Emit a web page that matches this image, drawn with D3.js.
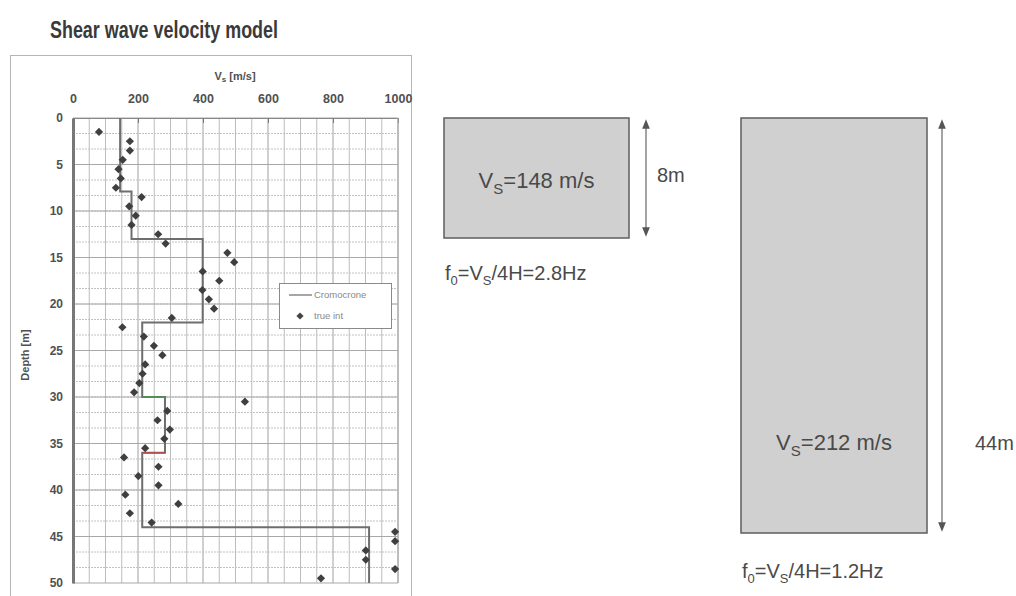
<!DOCTYPE html>
<html>
<head>
<meta charset="utf-8">
<script src="https://cdn.jsdelivr.net/npm/d3@7"></script>
<style>
    body { margin: 0; background: #fff; }
    svg { display: block; font-family: "Liberation Sans", Arial, sans-serif; }
</style>
</head>
<body>
<div id="chart"></div>
<script>
// measured velocity points (true int)
const pointVs = [80, 175, 175, 153, 140, 147, 132, 211, 173, 193, 180, 262, 285, 475, 496, 399, 450, 398, 418, 434,
    304, 152, 218, 249, 275, 222, 214, 204, 188, 529, 290, 260, 298, 281, 222, 157, 263, 201, 263, 161,
    324, 175, 242, 991, 991, 901, 901, 991, 763];
const pointDepth = [1.5, 2.5, 3.5, 4.5, 5.5, 6.5, 7.5, 8.5, 9.5, 10.5, 11.5, 12.5, 13.5, 14.5, 15.5, 16.5, 17.5, 18.5, 19.5, 20.5,
    21.5, 22.5, 23.5, 24.5, 25.5, 26.5, 27.5, 28.5, 29.5, 30.5, 31.5, 32.5, 33.5, 34.5, 35.5, 36.5, 37.5, 38.5, 39.5, 40.5,
    41.5, 42.5, 43.5, 44.5, 45.5, 46.5, 47.5, 48.5, 49.5];

// step model (Cromocrone): layer boundaries and layer velocities
const layerTop = [0, 7.9, 13, 22, 30, 36, 44];
const layerBottom = [7.9, 13, 22, 30, 36, 44, 50];
const layerVs = [145, 180, 399, 213, 283, 213, 911];

const xTicks = [0, 200, 400, 600, 800, 1000];
const yTicks = [0, 5, 10, 15, 20, 25, 30, 35, 40, 45, 50];

// simplified two-layer models shown on the right
const simpleVs = [148, 212];
const simpleH = [8, 44];
const simpleF0 = ['2.8', '1.2'];

const W = 1016, H = 596;
const svg = d3.select('#chart').append('svg').attr('width', W).attr('height', H);

// title
svg.append('text')
    .attr('x', 50).attr('y', 38)
    .attr('font-size', 23).attr('font-weight', 'bold').attr('fill', '#3a3a3a')
    .attr('textLength', 228).attr('lengthAdjust', 'spacingAndGlyphs')
    .text('Shear wave velocity model');

// chart frame
svg.append('rect')
    .attr('x', 10.5).attr('y', 55.5).attr('width', 401).attr('height', 545)
    .attr('fill', 'none').attr('stroke', '#b5b5b5').attr('stroke-width', 1);

const x = d3.scaleLinear().domain([0, 1000]).range([73, 398]);
const y = d3.scaleLinear().domain([0, 50]).range([118, 583]);

// grid
const grid = svg.append('g');
grid.selectAll('.vgrid')
    .data(d3.range(50, 1001, 50))
    .join('line')
    .attr('x1', d => x(d)).attr('x2', d => x(d))
    .attr('y1', y(0)).attr('y2', y(50))
    .attr('stroke', d => d % 200 === 0 ? '#a0a0a0' : '#bdbdbd')
    .attr('stroke-width', 1);
grid.selectAll('.hgrid')
    .data(d3.range(1, 30).map(i => i * 5 / 3))
    .join('line')
    .attr('x1', x(0)).attr('x2', x(1000))
    .attr('y1', d => y(d)).attr('y2', d => y(d))
    .attr('stroke', '#c2c2c2').attr('stroke-width', 1)
    .attr('stroke-dasharray', '2,1');
grid.selectAll('.hmajor')
    .data(yTicks)
    .join('line')
    .attr('x1', x(0)).attr('x2', x(1000))
    .attr('y1', d => y(d)).attr('y2', d => y(d))
    .attr('stroke', '#a8a8a8').attr('stroke-width', 1);

// top axis
const xAxis = d3.axisTop(x).tickValues(xTicks).tickFormat(d3.format('d')).tickSize(-5).tickPadding(15);
const gx = svg.append('g')
    .attr('transform', `translate(0,${y(0)})`)
    .call(xAxis);
gx.select('.domain').attr('stroke', '#888');
gx.selectAll('line').attr('stroke', '#777');
gx.selectAll('text')
    .attr('font-size', 12.5).attr('font-weight', 'bold').attr('fill', '#505050')
    .attr('font-family', '"Liberation Sans", Arial, sans-serif');

// left axis
const yAxis = d3.axisLeft(y).tickValues(yTicks).tickSize(0).tickPadding(10);
const gy = svg.append('g')
    .attr('transform', `translate(${x(0)},0)`)
    .call(yAxis);
gy.select('.domain').attr('stroke', '#777').attr('stroke-width', 3);
gy.selectAll('text')
    .attr('font-size', 12).attr('font-weight', 'bold').attr('fill', '#505050')
    .attr('font-family', '"Liberation Sans", Arial, sans-serif');

// right border
svg.append('line')
    .attr('x1', x(1000)).attr('x2', x(1000)).attr('y1', y(0)).attr('y2', y(50))
    .attr('stroke', '#aaa');

// axis labels
const vsLabel = svg.append('text')
    .attr('x', 235).attr('y', 80).attr('text-anchor', 'middle')
    .attr('font-size', 11).attr('font-weight', 'bold').attr('fill', '#505050');
vsLabel.append('tspan').text('V');
vsLabel.append('tspan').attr('font-size', 8).attr('dy', 2).text('s');
vsLabel.append('tspan').attr('dy', -2).text(' [m/s]');

svg.append('text')
    .attr('transform', 'translate(29,355) rotate(-90)')
    .attr('text-anchor', 'middle')
    .attr('font-size', 11).attr('font-weight', 'bold').attr('fill', '#505050')
    .text('Depth [m]');

// step model line
const stepPts = [];
layerVs.forEach((v, i) => {
    stepPts.push([v, layerTop[i]]);
    stepPts.push([v, layerBottom[i]]);
});
svg.append('path')
    .datum(stepPts)
    .attr('fill', 'none')
    .attr('stroke', '#6e6e6e')
    .attr('stroke-width', 2)
    .attr('d', d3.line().x(d => x(d[0])).y(d => y(d[1])));

// coloured horizontal steps at 30 m (green) and 36 m (red)
const stepColor = ['#6e6e6e', '#6e6e6e', '#6e6e6e', '#4c9a4c', '#b05050', '#6e6e6e'];
for (let i = 3; i < 5; i++) {
    svg.append('line')
        .attr('x1', x(layerVs[i])).attr('x2', x(layerVs[i + 1]))
        .attr('y1', y(layerBottom[i])).attr('y2', y(layerBottom[i]))
        .attr('stroke', stepColor[i]).attr('stroke-width', 1.5);
}

// measured points
const diamond = d3.symbol().type(d3.symbolSquare).size(34);
svg.selectAll('.pt')
    .data(pointVs.map((v, i) => [v, pointDepth[i]]))
    .join('path')
    .attr('d', diamond)
    .attr('transform', d => `translate(${x(d[0])},${y(d[1])}) rotate(45)`)
    .attr('fill', '#3f3f3f');

// legend
const lg = svg.append('g').attr('transform', 'translate(279,283)');
lg.append('rect').attr('x', 0.5).attr('y', 0.5).attr('width', 112).attr('height', 45)
    .attr('fill', '#fff').attr('stroke', '#8a8a8a');
lg.append('line').attr('x1', 10).attr('x2', 33).attr('y1', 12).attr('y2', 12)
    .attr('stroke', '#888').attr('stroke-width', 1.5);
lg.append('text').attr('x', 35).attr('y', 15).attr('font-size', 9.5).attr('fill', '#888').text('Cromocrone');
lg.append('path').attr('d', d3.symbol().type(d3.symbolSquare).size(26))
    .attr('transform', 'translate(21,33) rotate(45)').attr('fill', '#444');
lg.append('text').attr('x', 35).attr('y', 36).attr('font-size', 9.5).attr('fill', '#888').text('true int');

// right-hand layer boxes
const boxes = [
    { x: 444, y: 118, w: 185, h: 120, arrowX: 646, labelX: 657, fy: 280 },
    { x: 741, y: 118, w: 186, h: 415, arrowX: 942, labelX: 975, fy: 578 }
];
svg.append('defs').append('marker')
    .attr('id', 'ah').attr('viewBox', '0 0 10 10').attr('refX', 5).attr('refY', 5)
    .attr('markerWidth', 8).attr('markerHeight', 8).attr('orient', 'auto-start-reverse')
    .append('path').attr('d', 'M0,1L10,5L0,9Z').attr('fill', '#555');

boxes.forEach((b, i) => {
    const g = svg.append('g');
    g.append('rect')
        .attr('x', b.x).attr('y', b.y).attr('width', b.w).attr('height', b.h)
        .attr('fill', '#d0d0d0').attr('stroke', '#5e5e5e').attr('stroke-width', 1.5);
    g.append('line')
        .attr('x1', b.arrowX).attr('x2', b.arrowX).attr('y1', b.y + 6).attr('y2', b.y + b.h - 6)
        .attr('stroke', '#666').attr('stroke-width', 1.2)
        .attr('marker-start', 'url(#ah)').attr('marker-end', 'url(#ah)');

    const cy = b.y + b.h * (i === 0 ? 0.58 : 0.8);
    const t = g.append('text')
        .attr('x', b.x + b.w / 2).attr('y', cy).attr('text-anchor', 'middle')
        .attr('font-size', 22).attr('fill', '#4a4a4a');
    t.append('tspan').text('V');
    t.append('tspan').attr('font-size', 15).attr('dy', 6).text('S');
    t.append('tspan').attr('dy', -6).text(`=${simpleVs[i]} m/s`);

    g.append('text')
        .attr('x', b.labelX).attr('y', i === 0 ? 182 : cy)
        .attr('font-size', 20).attr('fill', '#4a4a4a')
        .text(`${simpleH[i]}m`);

    const f = g.append('text')
        .attr('x', b.x + 1).attr('y', b.fy)
        .attr('font-size', 20).attr('fill', '#4a4a4a');
    f.append('tspan').text('f');
    f.append('tspan').attr('font-size', 13).attr('dy', 5).text('0');
    f.append('tspan').attr('dy', -5).text('=V');
    f.append('tspan').attr('font-size', 13).attr('dy', 5).text('S');
    f.append('tspan').attr('dy', -5).text(`/4H=${simpleF0[i]}Hz`);
});
</script>
</body>
</html>
